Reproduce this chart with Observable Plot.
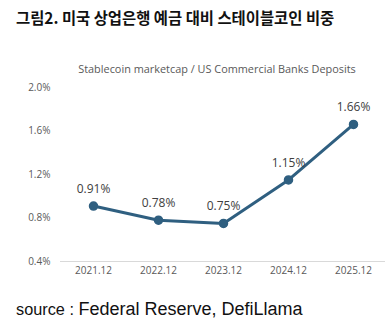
<!DOCTYPE html>
<html>
<head>
<meta charset="utf-8">
<script src="https://cdn.jsdelivr.net/npm/d3@7"></script>
<script src="https://cdn.jsdelivr.net/npm/@observablehq/plot@0.6"></script>
<style>
  html, body { margin: 0; padding: 0; background: #fff; }
  #wrap { position: relative; width: 387px; height: 328px; overflow: hidden; }
  #title { position: absolute; left: 16px; top: 10px; font-family: "Noto Sans CJK KR", sans-serif; font-weight: 700; font-size: 15.4px; color: #111; white-space: nowrap; line-height: 1; }
  #subtitle { position: absolute; left: 0; width: 434px; top: 64px; text-align: center; font-family: "Open Sans", sans-serif; font-size: 10.9px; color: #595959; white-space: nowrap; line-height: 1; }
  #chart { position: absolute; left: 0; top: 80px; }
  #caption { position: absolute; left: 16px; top: 300px; font-family: "Liberation Sans", Arial, sans-serif; color: #111; white-space: nowrap; line-height: 1; }
  #caption .s { font-size: 16.3px; }
  #caption .t { font-size: 18px; }
</style>
</head>
<body>
<div id="wrap">
  <div id="title">그림2. 미국 상업은행 예금 대비 스테이블코인 비중</div>
  <div id="subtitle">Stablecoin marketcap / US Commercial Banks Deposits</div>
  <div id="chart"></div>
  <div id="caption"><span class="s">source : </span><span class="t">Federal Reserve, DefiLlama</span></div>
</div>
<script>
const periods = ["2021.12", "2022.12", "2023.12", "2024.12", "2025.12"];
const ratios = [0.91, 0.78, 0.75, 1.15, 1.66];
const yTicks = [0.4, 0.8, 1.2, 1.6, 2.0];

const data = periods.map((p, i) => ({period: p, ratio: ratios[i]}));
const lineColor = "#2f5f80";

const chart = Plot.plot({
  width: 387,
  height: 206,
  marginLeft: 60,
  marginRight: 2,
  marginTop: 7,
  marginBottom: 25,
  style: { fontFamily: "Open Sans, sans-serif", fontSize: "10px", color: "#595959", background: "transparent" },
  x: { type: "point", domain: periods, padding: 0.5, label: null },
  y: { domain: [0.4, 2.0], ticks: yTicks, label: null },
  marks: [
    Plot.axisY({ ticks: yTicks, tickSize: 0, tickPadding: 10, tickFormat: d => d.toFixed(1) + "%", fill: "#595959", fontSize: 10 }),
    Plot.axisX({ tickSize: 0, tickPadding: 5, fill: "#595959", fontSize: 10 }),
    Plot.ruleY([0.4], { stroke: "#d9d9d9", strokeWidth: 1 }),
    Plot.line(data, { x: "period", y: "ratio", stroke: lineColor, strokeWidth: 3, strokeLinejoin: "round", strokeLinecap: "round" }),
    Plot.dot(data, { x: "period", y: "ratio", r: 4, fill: lineColor, stroke: lineColor }),
    Plot.text(data, { x: "period", y: "ratio", text: d => d.ratio.toFixed(2) + "%", dy: -17, fill: "#404040", fontSize: 12 })
  ]
});
document.getElementById("chart").appendChild(chart);
</script>
</body>
</html>
